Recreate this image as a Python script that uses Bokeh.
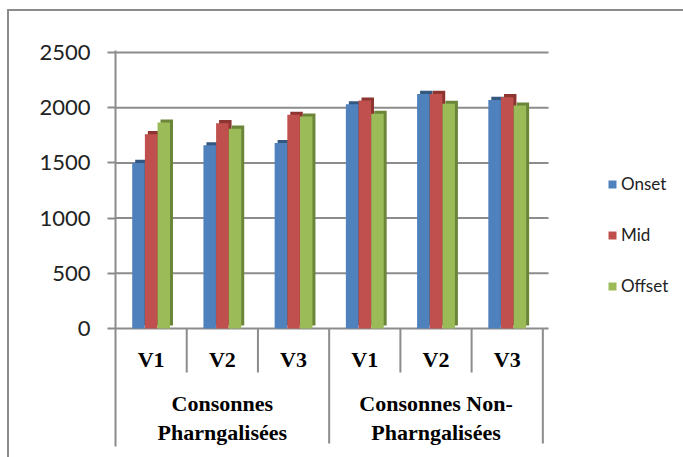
from bokeh.plotting import figure
from bokeh.models import Range1d, FixedTicker, Legend, LegendItem, ColumnDataSource
from bokeh.core.properties import value
from bokeh.embed import file_html
from bokeh.resources import INLINE

groups = ["Consonnes\nPharngalisées", "Consonnes Non-\nPharngalisées"]
vowels = ["V1", "V2", "V3", "V1", "V2", "V3"]
series = ["Onset", "Mid", "Offset"]
onset = [1500, 1660, 1680, 2030, 2125, 2070]
mid = [1760, 1860, 1935, 2065, 2125, 2095]
offset = [1865, 1810, 1920, 1945, 2035, 2020]
y_ticks = [0, 500, 1000, 1500, 2000, 2500]

colors = ["#4F81BD", "#C0504D", "#9BBB59"]
dark = ["#34577F", "#8E3431", "#6B8539"]
grid_col = "#8C8C8C"

x_end_cat = 6.08
p = figure(width=683, height=457, output_backend="svg", toolbar_location=None,
           x_range=Range1d(0, 7.975), y_range=Range1d(-1069, 2518),
           min_border_left=115, min_border_right=0, min_border_top=50,
           min_border_bottom=11)
p.border_fill_color = None
p.styles = {"background": "linear-gradient(#8C8C8C,#8C8C8C) 7px 9px / 2px 460px no-repeat, "
                          "linear-gradient(#8C8C8C,#8C8C8C) 7px 9px / 690px 2px no-repeat, white"}
p.outline_line_color = None
p.xaxis.visible = False
p.xgrid.visible = False
p.ygrid.visible = False

p.yaxis.ticker = FixedTicker(ticks=y_ticks)
p.yaxis.minor_tick_line_color = None
p.yaxis.major_tick_in = 0
p.yaxis.major_tick_out = 8
p.yaxis.major_tick_line_color = grid_col
p.yaxis.major_tick_line_width = 2
p.yaxis.axis_line_color = grid_col
p.yaxis.axis_line_width = 2
p.yaxis.major_label_standoff = 17
p.yaxis.major_label_text_font = "Lato"
p.yaxis.major_label_text_font_size = "22px"
p.yaxis.major_label_text_color = "#222222"

# horizontal gridlines across the category area only
p.segment(x0=0, y0=y_ticks, x1=x_end_cat, y1=y_ticks,
          line_color=grid_col, line_width=2)

xc = [i + 0.5 for i in range(len(vowels))]
bw = 0.175
offs = [-0.178, 0.0, 0.178]
vals = [onset, mid, offset]
dx = 0.042
dy = 28

items = []
for k, name in enumerate(series):
    xs = [x + offs[k] for x in xc]
    src = ColumnDataSource(dict(x=xs, top=vals[k], xs=[x + dx for x in xs],
                                tops=[v + dy for v in vals[k]]))
    p.vbar(x="xs", top="tops", bottom=dy, width=bw, source=src,
           fill_color=dark[k], line_color=None)
    r = p.vbar(x="x", top="top", bottom=0, width=bw, source=src,
               fill_color=colors[k], line_color=None)
    items.append(LegendItem(label=name, renderers=[r]))

# category separators
p.segment(x0=[1, 2, 4, 5], y0=0, x1=[1, 2, 4, 5], y1=-399,
          line_color=grid_col, line_width=2)
p.segment(x0=[3, 6], y0=0, x1=[3, 6], y1=-1042,
          line_color=grid_col, line_width=2)

# labels
p.text(x=xc, y=[-281] * 6, text=vowels, text_align="center",
       text_baseline="middle", text_font=value("Liberation Serif"),
       text_font_style="bold", text_font_size="22px", text_color="#000000")
p.text(x=[1.5, 4.5], y=[-811, -811], text=groups, text_align="center",
       text_baseline="middle", text_font=value("Liberation Serif"),
       text_font_style="bold", text_font_size="22px", text_color="#000000",
       text_line_height=1.15)

legend = Legend(items=items, location=(492, 150), orientation="vertical",
                glyph_width=10, glyph_height=10, label_height=20,
                spacing=30, padding=0, margin=0, label_standoff=4,
                label_text_font="Lato", label_text_font_size="17px",
                label_text_color="#222222", border_line_color=None,
                background_fill_alpha=0)
p.add_layout(legend, "center")

open("out.html", "w").write(file_html(p, INLINE))
